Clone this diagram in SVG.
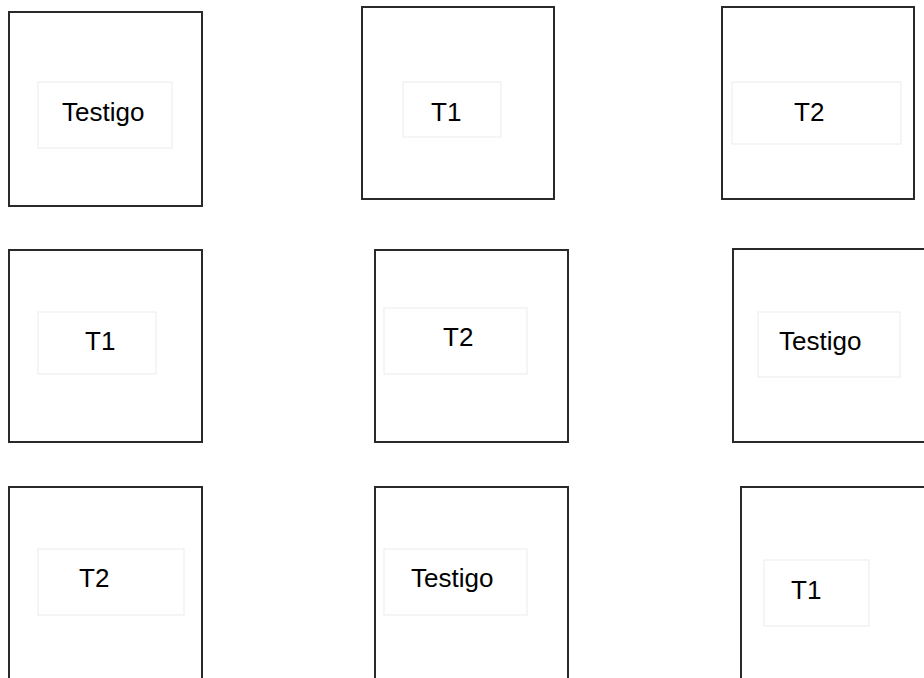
<svg xmlns="http://www.w3.org/2000/svg" width="924" height="678" viewBox="0 0 924 678">
<style>
.plot{fill:#fff;stroke:#2a2a2a;stroke-width:2}
.lbl{fill:#fff;stroke:#eeeeee;stroke-width:1.2}
text{font-family:"Liberation Sans",Arial,sans-serif;font-size:26px;fill:#000}
</style>
<rect width="924" height="678" fill="#fff"/>
<g id="p1"><rect class="plot" x="9" y="12" width="193" height="194"/><rect class="lbl" x="38" y="82" width="134" height="66"/><text x="62" y="121">Testigo</text></g>
<g id="p2"><rect class="plot" x="362" y="7" width="192" height="192"/><rect class="lbl" x="403" y="82" width="98" height="55"/><text x="431" y="121">T1</text></g>
<g id="p3"><rect class="plot" x="722" y="7" width="192" height="192"/><rect class="lbl" x="732" y="82" width="169" height="62"/><text x="794" y="121">T2</text></g>
<g id="p4"><rect class="plot" x="9" y="250" width="193" height="192"/><rect class="lbl" x="38" y="312" width="118" height="62"/><text x="85" y="350">T1</text></g>
<g id="p5"><rect class="plot" x="375" y="250" width="193" height="192"/><rect class="lbl" x="384" y="308" width="143" height="66"/><text x="443" y="346">T2</text></g>
<g id="p6"><rect class="plot" x="733" y="249" width="200" height="193"/><rect class="lbl" x="758" y="312" width="142" height="65"/><text x="779" y="350">Testigo</text></g>
<g id="p7"><rect class="plot" x="9" y="487" width="193" height="200"/><rect class="lbl" x="38" y="549" width="146" height="66"/><text x="79" y="587">T2</text></g>
<g id="p8"><rect class="plot" x="375" y="487" width="193" height="200"/><rect class="lbl" x="384" y="549" width="143" height="66"/><text x="411" y="587">Testigo</text></g>
<g id="p9"><rect class="plot" x="741" y="487" width="200" height="200"/><rect class="lbl" x="764" y="560" width="105" height="66"/><text x="791" y="599">T1</text></g>
<g id="connectors"/>
</svg>
